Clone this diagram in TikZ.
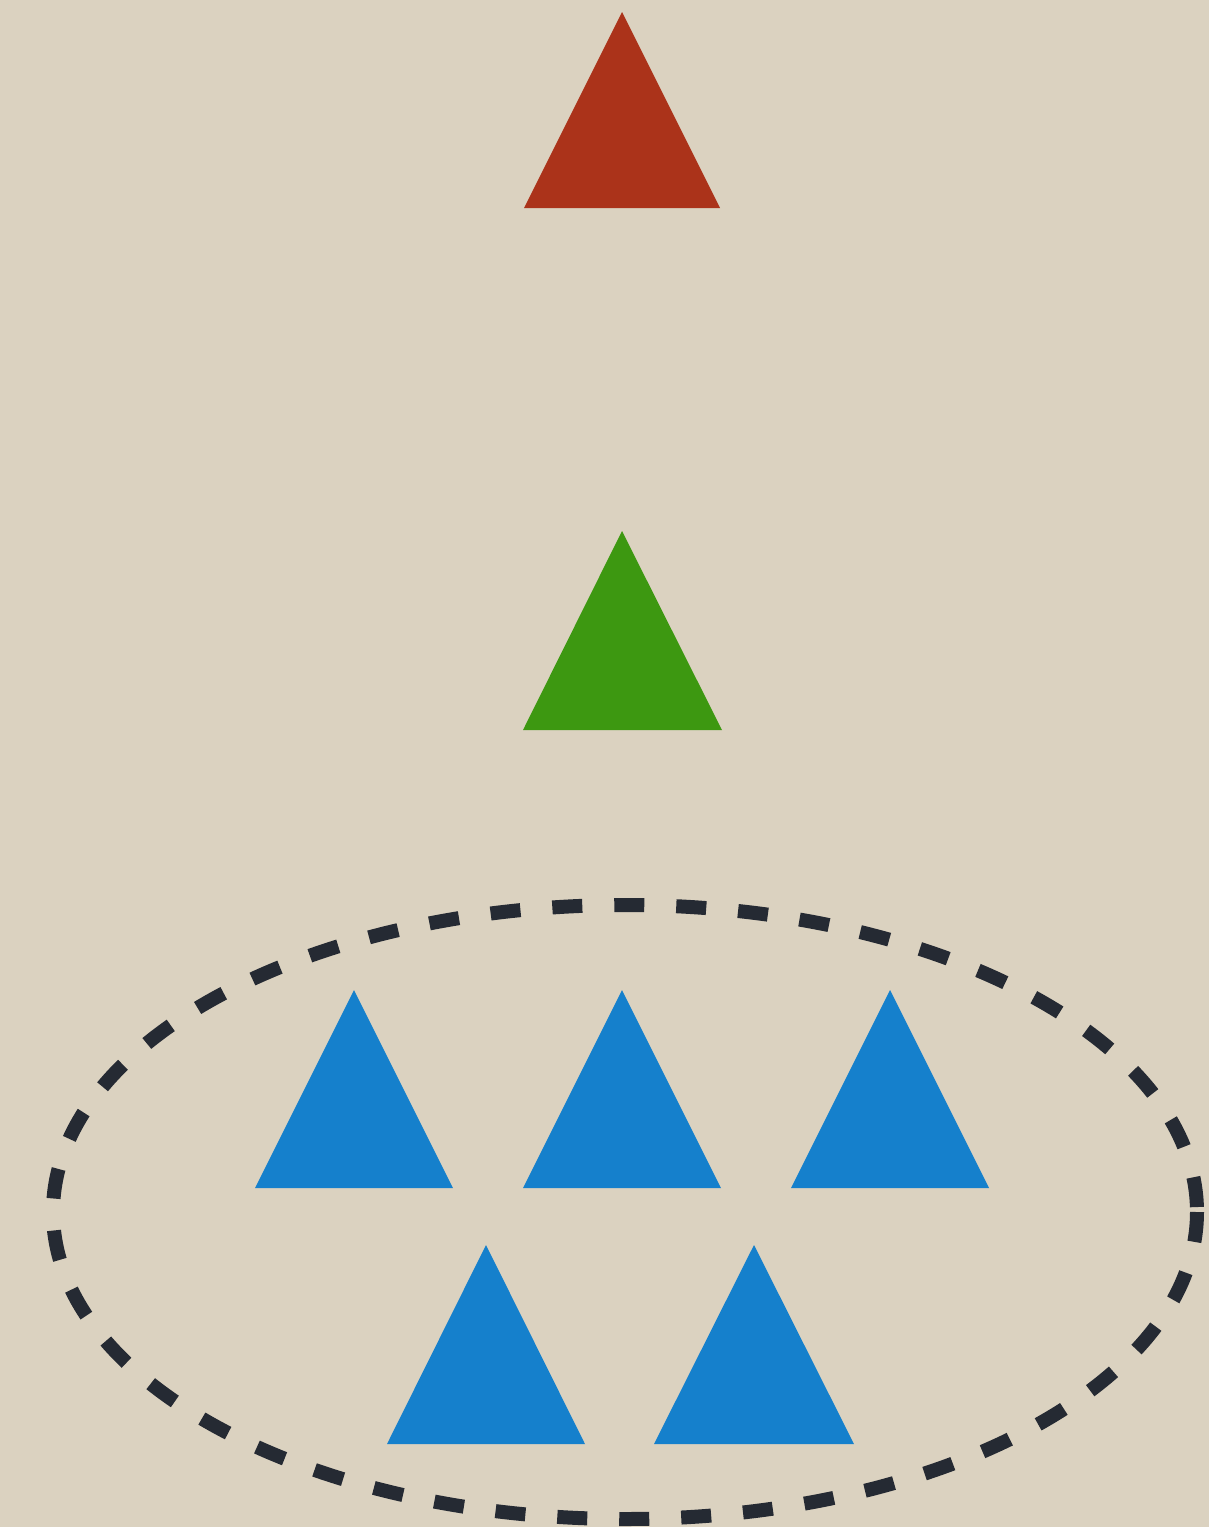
\documentclass[tikz,border=0pt]{standalone}
\definecolor{bg}{HTML}{DBD2C0}
\definecolor{redtri}{HTML}{AB331A}
\definecolor{greentri}{HTML}{3D9811}
\definecolor{bluetri}{HTML}{1580CC}
\definecolor{ringcol}{HTML}{252A33}
\begin{document}
\begin{tikzpicture}[x=1pt,y=-1pt,
  tri/.style={draw=none},
  ring/.style={draw=ringcol,line width=14pt,dash pattern=on 30pt off 32pt}]
\fill[bg] (0,0) rectangle (1209,1527);
\useasboundingbox (0,0) rectangle (1209,1527);
% red
\fill[redtri] (622,12) -- (720,208) -- (524,208) -- cycle;
% green
\fill[greentri] (622,531) -- (722,730) -- (523,730) -- cycle;
% blue row 1
\fill[bluetri] (354,990) -- (453,1188) -- (255,1188) -- cycle;
\fill[bluetri] (622,990) -- (721,1188) -- (523,1188) -- cycle;
\fill[bluetri] (890,990) -- (989,1188) -- (791,1188) -- cycle;
% blue row 2
\fill[bluetri] (486,1245) -- (585,1444) -- (387,1444) -- cycle;
\fill[bluetri] (754,1245) -- (854,1444) -- (654,1444) -- cycle;
% dashed ellipse
\draw[ring] (625,1212) ellipse [x radius=572, y radius=307];
\end{tikzpicture}
\end{document}
